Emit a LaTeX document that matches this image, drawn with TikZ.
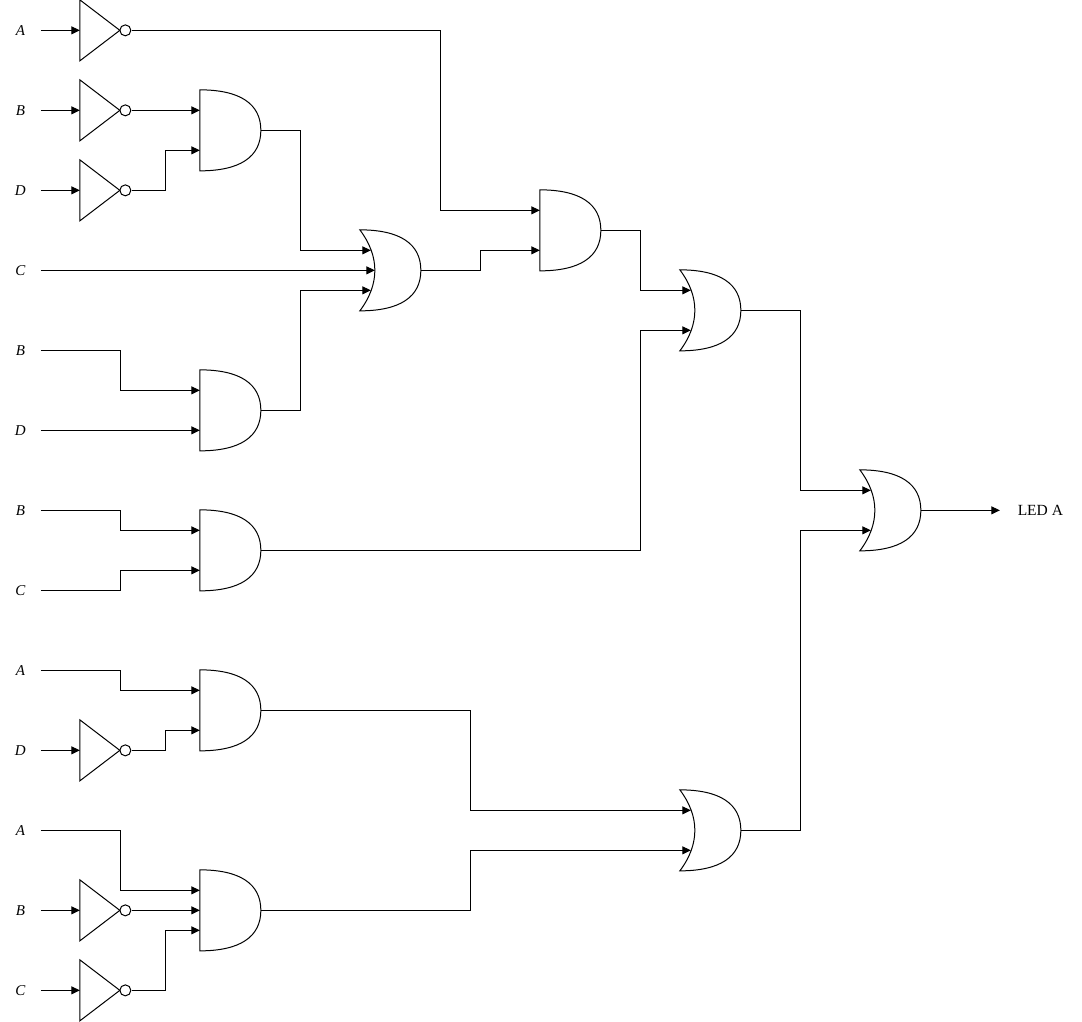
\documentclass[tikz,border=0pt]{standalone}
\usepackage{fontspec}
\setmainfont{Liberation Serif}
\usetikzlibrary{arrows.meta, positioning}

\begin{document}
\begin{tikzpicture}[
    on grid,
    line width=1pt,
    >={Triangle[width=8pt,length=8.5pt]},
    gatebox/.style={rectangle, inner sep=0pt, minimum height=80pt, minimum width=60pt},
    andgate/.style={gatebox, append after command={\pgfextra{
        \draw (\tikzlastnode.north west) .. controls +(40pt,0) and +(0,26.67pt) .. (\tikzlastnode.east)
            .. controls +(0,-26.67pt) and +(40pt,0) .. (\tikzlastnode.south west) -- cycle;
        \coordinate (\tikzlastnode-ina) at ([yshift=20pt]\tikzlastnode.west);
        \coordinate (\tikzlastnode-inb) at ([yshift=-20pt]\tikzlastnode.west);
        \coordinate (\tikzlastnode-inc) at (\tikzlastnode.west);
    }}},
    orgate/.style={gatebox, append after command={\pgfextra{
        \draw (\tikzlastnode.north west) .. controls +(40pt,0) and +(0,26.67pt) .. (\tikzlastnode.east)
            .. controls +(0,-26.67pt) and +(40pt,0) .. (\tikzlastnode.south west)
            .. controls +(20pt,26.67pt) and +(20pt,-26.67pt) .. (\tikzlastnode.north west) -- cycle;
        \coordinate (\tikzlastnode-ina) at ([xshift=11pt,yshift=20pt]\tikzlastnode.west);
        \coordinate (\tikzlastnode-inb) at ([xshift=11pt,yshift=-20pt]\tikzlastnode.west);
        \coordinate (\tikzlastnode-inc) at ([xshift=15pt]\tikzlastnode.west);
    }}},
    notgate/.style={rectangle, inner sep=0pt, minimum height=60pt, minimum width=51pt, append after command={\pgfextra{
        \draw (\tikzlastnode.north west) -- ([xshift=40pt]\tikzlastnode.west) -- (\tikzlastnode.south west) -- cycle;
        \draw ([xshift=45.5pt]\tikzlastnode.west) circle[radius=5.5pt];
    }}},
    inlabel/.style={rectangle, inner sep=0pt, minimum width=40pt, minimum height=20pt, font=\fontsize{15}{18}\selectfont\itshape},
    outlabel/.style={rectangle, inner sep=0pt, minimum width=80pt, minimum height=20pt, font=\fontsize{15.5}{18}\selectfont},
    line/.style={draw, ->}
]
    \useasboundingbox (0,0) rectangle (1082pt,-1022pt);

    \node (inA1) [inlabel] at (20.35pt,-30.35pt) {A};
    \node (inB1) [inlabel, below=80pt of inA1] {B};
    \node (inD1) [inlabel, below=80pt of inB1] {D};
    \node (inC1) [inlabel, below=80pt of inD1] {C};
    \node (inB2) [inlabel, below=80pt of inC1] {B};
    \node (inD2) [inlabel, below=80pt of inB2] {D};
    \node (inB3) [inlabel, below=80pt of inD2] {B};
    \node (inC2) [inlabel, below=80pt of inB3] {C};
    \node (inA2) [inlabel, below=80pt of inC2] {A};
    \node (inD3) [inlabel, below=80pt of inA2] {D};
    \node (inA3) [inlabel, below=80pt of inD3] {A};
    \node (inB4) [inlabel, below=80pt of inA3] {B};
    \node (inC3) [inlabel, below=80pt of inB4] {C};

    \node (notA1) [notgate, right=85.5pt of inA1] {};
    \node (notB1) [notgate, right=85.5pt of inB1] {};
    \node (notD1) [notgate, right=85.5pt of inD1] {};
    \node (notD3) [notgate, right=85.5pt of inD3] {};
    \node (notB4) [notgate, right=85.5pt of inB4] {};
    \node (notC3) [notgate, right=85.5pt of inC3] {};

    \node (and1) [andgate, below right=20pt and 210pt of inB1] {};
    \node (and2) [andgate, below right=60pt and 210pt of inB2] {};
    \node (and3) [andgate, below right=40pt and 210pt of inB3] {};
    \node (and4) [andgate, below right=40pt and 210pt of inA2] {};
    \node (and5) [andgate, right=210pt of inB4] {};

    \node (or1) [orgate, right=370pt of inC1] {};
    \node (and6) [andgate, above right=40pt and 180pt of or1] {};
    \node (or2) [orgate, below right=80pt and 140pt of and6] {};
    \node (or3) [orgate, below=520pt of or2] {};
    \node (or4) [orgate, below right=200pt and 180pt of or2] {};
    \node (led) [outlabel, right=150pt of or4] {LED A};

    \draw[line] (inA1) -- (notA1);
    \draw[line] (inB1) -- (notB1);
    \draw[line] (inD1) -- (notD1);
    \draw[line] (inD3) -- (notD3);
    \draw[line] (inB4) -- (notB4);
    \draw[line] (inC3) -- (notC3);

    \draw[line] (notA1.east) -- ++(309pt,0) |- (and6-ina);
    \draw[line] (notB1.east) -- (and1-ina);
    \draw[line] (notD1.east) -- ++(34pt,0) |- (and1-inb);

    \draw[line] (and1.east) -- ++(40pt,0) |- (or1-ina);
    \draw[line] (inC1.east) -- (or1-inc);
    \draw[line] (and2.east) -- ++(40pt,0) |- (or1-inb);

    \draw[line] (inB2.east) -- ++(80pt,0) |- (and2-ina);
    \draw[line] (inD2.east) -- (and2-inb);
    \draw[line] (inB3.east) -- ++(80pt,0) |- (and3-ina);
    \draw[line] (inC2.east) -- ++(80pt,0) |- (and3-inb);

    \draw[line] (or1.east) -- ++(60pt,0) |- (and6-inb);
    \draw[line] (and6.east) -- ++(40pt,0) |- (or2-ina);
    \draw[line] (and3.east) -- ++(380pt,0) |- (or2-inb);

    \draw[line] (inA2.east) -- ++(80pt,0) |- (and4-ina);
    \draw[line] (notD3.east) -- ++(34pt,0) |- (and4-inb);
    \draw[line] (inA3.east) -- ++(80pt,0) |- (and5-ina);
    \draw[line] (notB4.east) -- (and5-inc);
    \draw[line] (notC3.east) -- ++(34pt,0) |- (and5-inb);

    \draw[line] (and4.east) -- ++(210pt,0) |- (or3-ina);
    \draw[line] (and5.east) -- ++(210pt,0) |- (or3-inb);

    \draw[line] (or2.east) -- ++(60pt,0) |- (or4-ina);
    \draw[line] (or3.east) -- ++(60pt,0) |- (or4-inb);
    \draw[line] (or4.east) -- (led.west);

\end{tikzpicture}
\end{document}
